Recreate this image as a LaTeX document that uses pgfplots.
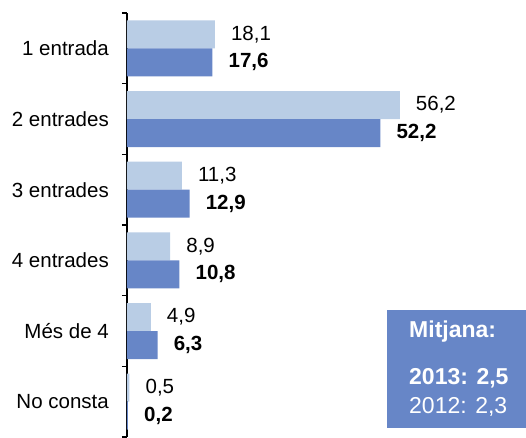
\documentclass[border=0pt]{standalone}
\usepackage{pgfplots}
\pgfplotsset{compat=1.18}
\usepackage{fontspec}
\setmainfont{Liberation Sans}
\definecolor{lightbar}{RGB}{185,205,229}
\definecolor{darkbar}{RGB}{103,134,199}
\newcommand{\fs}{\fontsize{20.5}{24}\selectfont}

\begin{document}
\begin{tikzpicture}
\useasboundingbox (-127pt,0pt) rectangle (399pt,437pt);
\begin{axis}[
  at={(0pt,0pt)}, anchor=south west,
  scale only axis, width=399pt, height=424pt,
  xbar, bar width=28pt,
  xmin=0, xmax=82.2,
  ymin=-0.5, ymax=5.5, y dir=reverse,
  hide x axis,
  axis y line*=left,
  y axis line style={line width=1.5pt, -},
  ytick={0,...,5},
  yticklabels={1 entrada, 2 entrades, 3 entrades, 4 entrades, Més de 4, No consta},
  major tick length=0pt,
  minor ytick={-0.5,0.5,...,5.5},
  minor tick length=5pt,
  tick align=outside,
  tick style={black, line width=1.5pt},
  yticklabel style={font=\fs, inner sep=0pt, xshift=-18pt},
  nodes near coords,
  nodes near coords style={anchor=west, inner sep=0pt, xshift=16pt, font=\fs},
  /pgf/number format/.cd, use comma, fixed, fixed zerofill, precision=1, assume math mode=true,
]
\addplot[fill=lightbar, draw=none, bar shift=14pt] coordinates {
  (18.1,0) (56.2,1) (11.3,2) (8.9,3) (4.9,4) (0.5,5)};
\addplot[fill=darkbar, draw=none, bar shift=-14pt,
  every node near coord/.append style={font=\fs\bfseries}] coordinates {
  (17.6,0) (52.2,1) (12.9,2) (10.8,3) (6.3,4) (0.2,5)};
\end{axis}
\fill[darkbar] (260pt,9pt) rectangle (399pt,127pt);
\begin{scope}[every node/.style={anchor=west, inner sep=0pt, text=white, font=\fontsize{23}{27}\selectfont}]
\node at (282pt,105pt) {\bfseries Mitjana:};
\node at (282pt,59pt) {\bfseries 2013: 2,5};
\node at (282pt,30pt) {2012: 2,3};
\end{scope}
\end{tikzpicture}
\end{document}
